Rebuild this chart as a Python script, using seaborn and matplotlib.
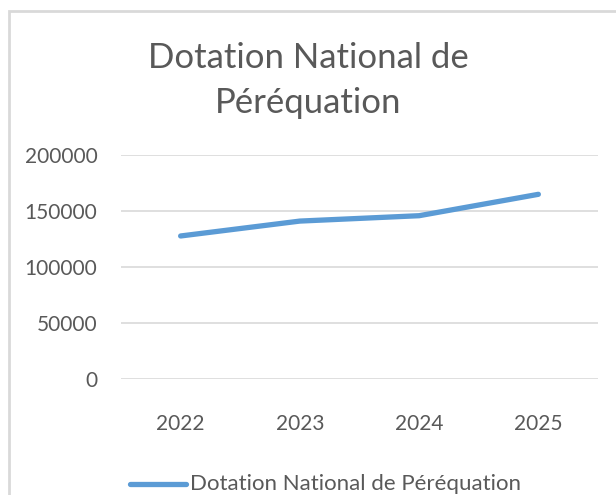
import pandas as pd
import seaborn as sns
import matplotlib.pyplot as plt
from matplotlib.patches import Rectangle

years = ["2022", "2023", "2024", "2025"]
dotation = [127700, 141000, 145800, 164900]
series_name = "Dotation National de Péréquation"
y_ticks = [0, 50000, 100000, 150000, 200000]

df = pd.DataFrame({"year": years, "value": dotation, "serie": series_name})

sns.set_theme(style="white")
plt.rcParams["font.family"] = ["Lato", "DejaVu Sans"]
txt = "#595959"

fig = plt.figure(figsize=(6.16, 4.95), dpi=100)
# chart frame (cropped on right and bottom like the source)
fig.patches.append(Rectangle((8.5 / 616, -0.05), 1.2, 1 - 11 / 495 + 0.05,
                             transform=fig.transFigure, fill=False,
                             edgecolor="#d9d9d9", linewidth=2))

ax = fig.add_axes([121 / 616, 1 - 379 / 495, (598 - 121) / 616, (379 - 155) / 495])
sns.lineplot(data=df, x="year", y="value", hue="serie", palette=["#5b9bd5"],
             linewidth=3.8, ax=ax, legend=False, solid_capstyle="round")

ax.set_xlim(-0.5, 3.5)
ax.set_ylim(0, 200000)
ax.set_yticks(y_ticks)
ax.set_yticklabels([str(v) for v in y_ticks])
ax.grid(axis="y", color="#d9d9d9", linewidth=1.2)
ax.set_axisbelow(True)
for s in ax.spines.values():
    s.set_visible(False)
ax.tick_params(axis="y", length=0, pad=17, labelsize=15, labelcolor=txt)
ax.tick_params(axis="x", length=0, pad=25, labelsize=15, labelcolor=txt)
ax.set_xlabel("")
ax.set_ylabel("")

fig.text(0.5, 1 - 58 / 495, "Dotation National de", ha="center", va="center",
         fontsize=25, color=txt)
fig.text(0.5, 1 - 103 / 495, "Péréquation", ha="center", va="center",
         fontsize=25, color=txt)

# legend
fig.lines.append(plt.Line2D([130 / 616, 186 / 616], [1 - 484 / 495] * 2,
                            transform=fig.transFigure, color="#5b9bd5",
                            linewidth=3.8, solid_capstyle="round"))
fig.text(190 / 616, 1 - 484 / 495, series_name, ha="left", va="center",
         fontsize=16, color=txt)

fig.savefig("out.png", dpi=100)
